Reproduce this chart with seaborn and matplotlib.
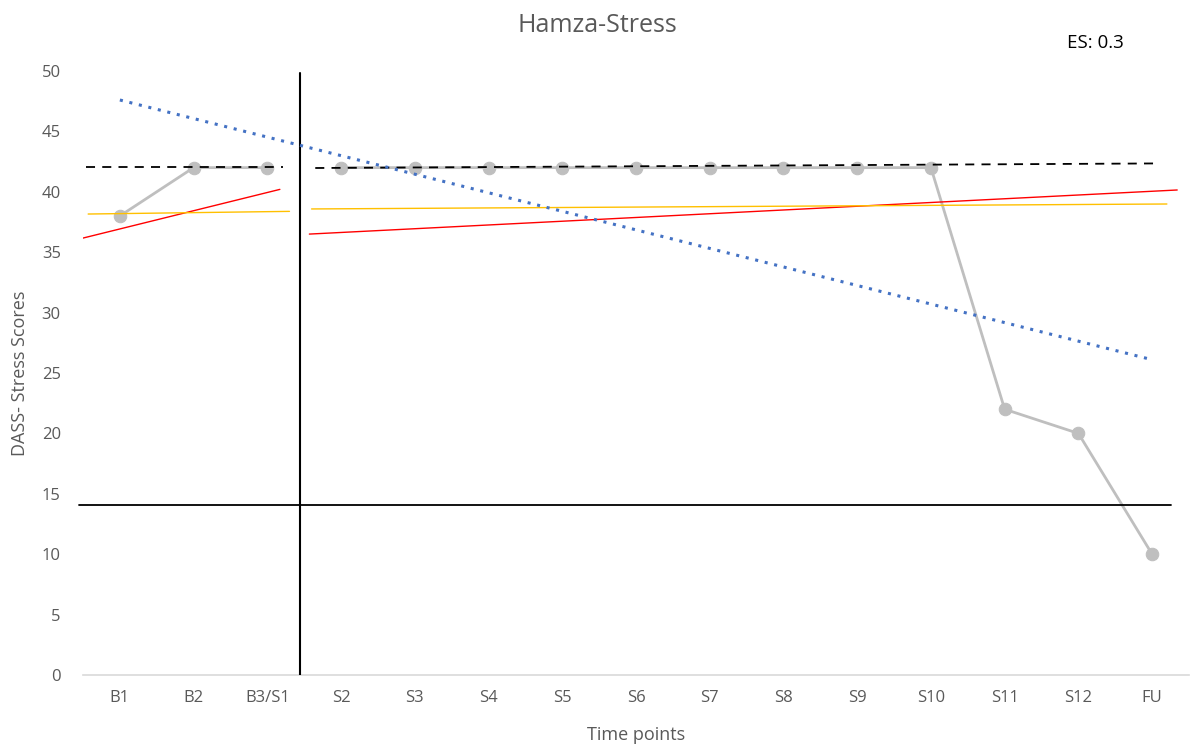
import matplotlib
matplotlib.use("Agg")
import matplotlib.pyplot as plt
import seaborn as sns
import pandas as pd
import numpy as np

# Data
time_points = ["B1", "B2", "B3/S1", "S2", "S3", "S4", "S5", "S6", "S7", "S8", "S9", "S10", "S11", "S12", "FU"]
stress_scores = [38, 42, 42, 42, 42, 42, 42, 42, 42, 42, 42, 42, 22, 20, 10]
phase = ["Baseline"] * 3 + ["Treatment"] * 12

# Reference lines (x in category index units, y in score units)
cutoff_line_x = [-0.55, 14.26]
cutoff_line_y = [14.1, 14.1]
phase_change_x = 2.44
phase_change_y = [0, 49.8]
base_mean_x = [-0.46, 2.21]
base_mean_y = [42.08, 42.08]
treat_mean_x = [2.65, 14.1]
treat_mean_y = [41.97, 42.35]
base_red_x = [-0.5, 2.17]
base_red_y = [36.17, 40.2]
treat_red_x = [2.57, 14.34]
treat_red_y = [36.5, 40.15]
base_yellow_x = [-0.43, 2.3]
base_yellow_y = [38.16, 38.38]
treat_yellow_x = [2.6, 14.2]
treat_yellow_y = [38.58, 38.99]
overall_trend_x = [0, 14]
overall_trend_y = [47.6, 26.1]

sns.set_theme(style="white")
plt.rcParams['font.family'] = ['Open Sans', 'DejaVu Sans']

fig = plt.figure(figsize=(11.91, 7.47), dpi=100)
ax = fig.add_axes([83/1191, 72/747, 1106/1191, 604/747])

df = pd.DataFrame({"idx": np.arange(len(time_points)), "score": stress_scores, "phase": phase})
for ph in ["Baseline", "Treatment"]:
    sub = df[df.phase == ph]
    sns.lineplot(data=sub, x="idx", y="score", ax=ax, color="#BFBFBF", linewidth=2,
                 marker="o", markersize=9, markeredgecolor="#BFBFBF", zorder=3)

ax.plot(base_mean_x, base_mean_y, color="black", linestyle=(0, (5, 4)), linewidth=1.3, zorder=4)
ax.plot(treat_mean_x, treat_mean_y, color="black", linestyle=(0, (5, 4)), linewidth=1.3, zorder=4)
ax.plot(base_red_x, base_red_y, color="#FF0000", linewidth=1, zorder=4)
ax.plot(treat_red_x, treat_red_y, color="#FF0000", linewidth=1, zorder=4)
ax.plot(base_yellow_x, base_yellow_y, color="#FFC000", linewidth=1, zorder=4)
ax.plot(treat_yellow_x, treat_yellow_y, color="#FFC000", linewidth=1, zorder=4)
ax.plot(overall_trend_x, overall_trend_y, color="#4472C4", linestyle=(0, (1, 2.2)), linewidth=2.2, zorder=5)
ax.plot(cutoff_line_x, cutoff_line_y, color="black", linewidth=1.3, zorder=4, clip_on=False)
ax.plot([phase_change_x, phase_change_x], phase_change_y, color="black", linewidth=1.5, zorder=4)

ax.set_xlim(-0.5, 14.5)
ax.set_ylim(0, 50)
ax.set_yticks(range(0, 51, 5))
ax.set_xticks(range(len(time_points)))
ax.set_xticklabels(time_points)
ax.tick_params(axis="both", colors="#595959", labelsize=12, length=0, pad=11)
ax.tick_params(axis="y", pad=16)
for s in ["top", "right", "left"]:
    ax.spines[s].set_visible(False)
ax.spines["bottom"].set_color("#D9D9D9")
ax.spines["bottom"].set_linewidth(1.2)
ax.grid(False)

ax.set_xlabel("Time points", fontsize=13, color="#595959", labelpad=14)
ax.set_ylabel("DASS- Stress Scores", fontsize=13, color="#595959", labelpad=9)
fig.text(597/1191, 1 - 25/747, "Hamza-Stress", ha="center", va="center", fontsize=18, color="#595959")
fig.text(1095/1191, 1 - 43/747, "ES: 0.3", ha="center", va="center", fontsize=13.5, color="black")

fig.savefig("out.png", dpi=100)
